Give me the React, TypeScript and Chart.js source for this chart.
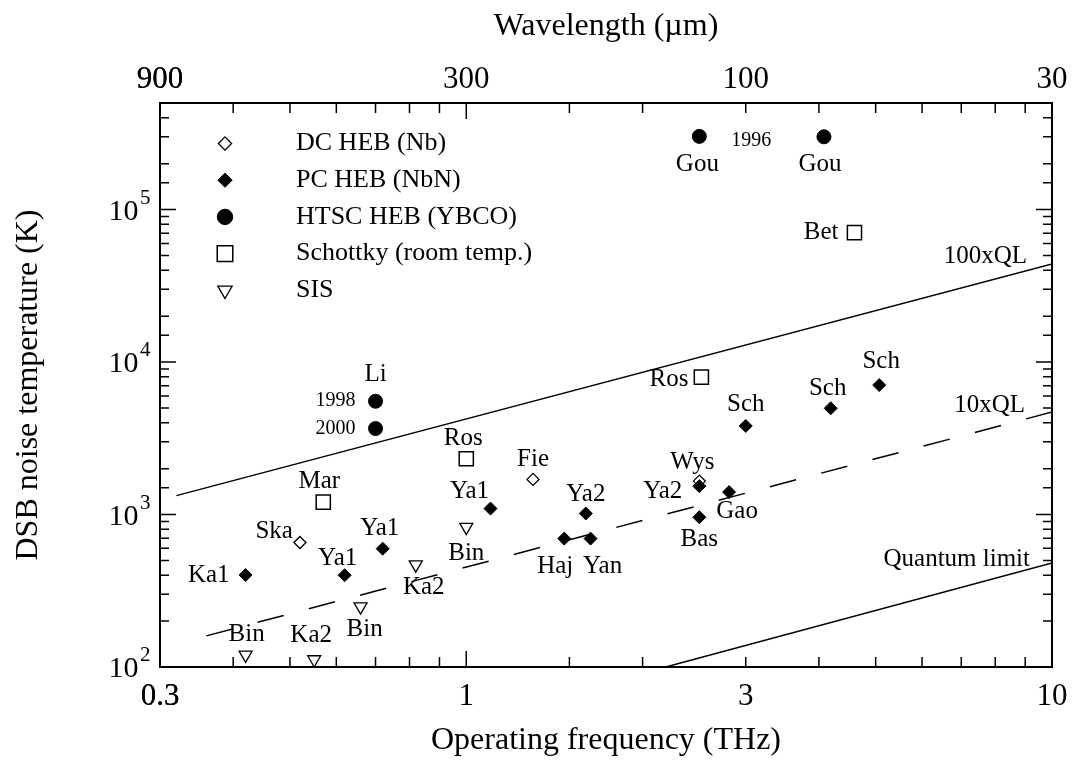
import React, { useEffect, useRef } from 'react';
import { Chart, registerables } from 'chart.js';
import { drawPoint } from 'chart.js/helpers';

Chart.register(...registerables);

const FONT = '"Liberation Serif", "Times New Roman", serif';

// ---- data: operating frequency (THz) and DSB noise temperature (K) ----
const dcHebFreq = [0.52, 1.3, 2.5];
const dcHebTemp = [655, 1700, 1656];
const dcHebNames = ['Ska', 'Fie', 'Wys'];

const pcHebFreq = [0.42, 0.62, 0.72, 1.1, 1.47, 1.6, 1.63, 2.5, 2.5, 2.81, 3.0, 4.19, 5.07];
const pcHebTemp = [401, 400, 597, 1094, 695, 1016, 695, 1535, 960, 1403, 3811, 4977, 7063];
const pcHebNames = ['Ka1', 'Ya1', 'Ya1', 'Ya1', 'Haj', 'Ya2', 'Yan', 'Ya2', 'Bas', 'Gao', 'Sch', 'Sch', 'Sch'];

const htscFreq = [0.7, 0.7, 2.5, 4.08];
const htscTemp = [5533, 3664, 302000, 300000];
const htscNames = ['Li', '', 'Gou', 'Gou'];
const htscYears = ['1998', '2000', '1996', ''];

const schottkyFreq = [0.57, 1.0, 2.52, 4.6];
const schottkyTemp = [1205, 2323, 7960, 70600];
const schottkyNames = ['Mar', 'Ros', 'Ros', 'Bet'];

const sisFreq = [0.42, 0.55, 0.66, 0.82, 1.0];
const sisTemp = [120, 112, 249, 469, 826];
const sisNames = ['Bin', 'Ka2', 'Bin', 'Ka2', 'Bin'];

// reference lines
const ql100Freq = [0.32, 10];
const ql100Temp = [1330, 44000];
const ql10Freq = [0.36, 10];
const ql10Temp = [160, 4700];
const qlFreq = [2.19, 10];
const qlTemp = [100, 481];

// axes
const xTickValues = [0.3, 1, 3, 10];
const xTickLabels = ['0.3', '1', '3', '10'];
const wavelengthLabels = ['900', '300', '100', '30'];
const yTickExponents = [2, 3, 4, 5];

// ---- label placement (pixel offsets from the marker, alignment) ----
type Place = [number, number, CanvasTextAlign] | null;
const dcHebPlace: Place[] = [[-7, -11, 'right'], [0, -20, 'center'], [-7, -19, 'center']];
const pcHebPlace: Place[] = [
  [-16, 0, 'right'], [-7, -17, 'center'], [-3, -20, 'center'], [-21, -17, 'center'],
  [-9, 28, 'center'], [0, -19, 'center'], [12, 28, 'center'], [-17, 5, 'right'],
  [0, 22, 'center'], [8, 19, 'center'], [0, -21, 'center'], [-3, -20, 'center'], [2, -24, 'center'],
];
const htscPlace: Place[] = [[0, -27, 'center'], null, [-2, 28, 'center'], [-4, 28, 'center']];
const htscYearPlace: Place[] = [[-20, 0, 'right'], [-20, 0, 'right'], [32, 4, 'left'], null];
const schottkyPlace: Place[] = [[-4, -21, 'center'], [-3, -20, 'center'], [-13, 2, 'right'], [-16, 0, 'right']];
const sisPlace: Place[] = [[1, -20, 'center'], [-3, -24, 'center'], [4, 23, 'center'], [8, 23, 'center'], [0, 26, 'center']];

const pts = (xs: number[], ys: number[]) => xs.map((x, i) => ({ x, y: ys[i] }));
const near = (a: number, b: number) => Math.abs(a - b) < 1e-6 * Math.max(1, Math.abs(b));

const annotate = {
  id: 'annotate',
  afterDatasetsDraw(chart: any) {
    const ctx: CanvasRenderingContext2D = chart.ctx;
    const { left, right, top, bottom } = chart.chartArea;
    const xs = chart.scales.x;
    const ys = chart.scales.y;
    ctx.save();
    ctx.strokeStyle = '#000';
    ctx.fillStyle = '#000';
    ctx.lineWidth = 1.5;

    // inward tick marks on all four sides
    const isMajor = (v: number) => {
      const l = Math.log10(v);
      return Math.abs(l - Math.round(l)) < 1e-6;
    };
    ctx.beginPath();
    for (const t of xs.ticks) {
      const px = xs.getPixelForValue(t.value);
      const len = isMajor(t.value) ? 16 : 10;
      ctx.moveTo(px, bottom);
      ctx.lineTo(px, bottom - len);
      ctx.moveTo(px, top);
      ctx.lineTo(px, top + len);
    }
    for (const t of ys.ticks) {
      const py = ys.getPixelForValue(t.value);
      const len = isMajor(t.value) ? 16 : 9;
      ctx.moveTo(left, py);
      ctx.lineTo(left + len, py);
      ctx.moveTo(right, py);
      ctx.lineTo(right - len, py);
    }
    ctx.stroke();

    // y tick labels 10^n
    for (const e of yTickExponents) {
      const py = ys.getPixelForValue(Math.pow(10, e));
      ctx.textBaseline = 'alphabetic';
      ctx.font = `30px ${FONT}`;
      ctx.textAlign = 'right';
      ctx.fillText('10', left - 21.5, py + 10);
      ctx.font = `21px ${FONT}`;
      ctx.textAlign = 'left';
      ctx.fillText(String(e), left - 20, py - 6);
    }

    // point labels
    const drawLabels = (fx: number[], ty: number[], names: string[], place: Place[], size: number) => {
      ctx.font = `${size}px ${FONT}`;
      ctx.textBaseline = 'middle';
      fx.forEach((f, i) => {
        const p = place[i];
        if (!p || !names[i]) return;
        const px = xs.getPixelForValue(f);
        const py = ys.getPixelForValue(ty[i]);
        ctx.textAlign = p[2];
        ctx.fillText(names[i], px + p[0], py + p[1]);
      });
    };
    drawLabels(dcHebFreq, dcHebTemp, dcHebNames, dcHebPlace, 25);
    drawLabels(pcHebFreq, pcHebTemp, pcHebNames, pcHebPlace, 25);
    drawLabels(htscFreq, htscTemp, htscNames, htscPlace, 25);
    drawLabels(htscFreq, htscTemp, htscYears, htscYearPlace, 20);
    drawLabels(schottkyFreq, schottkyTemp, schottkyNames, schottkyPlace, 25);
    drawLabels(sisFreq, sisTemp, sisNames, sisPlace, 25);

    // reference line labels (right end of each line)
    const lineLabel = (fx: number[], ty: number[], text: string, dx: number, dy: number) => {
      const n = fx.length - 1;
      const px = xs.getPixelForValue(fx[n]);
      const py = ys.getPixelForValue(ty[n]);
      ctx.font = `25px ${FONT}`;
      ctx.textAlign = 'right';
      ctx.textBaseline = 'middle';
      ctx.fillText(text, px + dx, py + dy);
    };
    lineLabel(ql100Freq, ql100Temp, '100xQL', -25, -8);
    lineLabel(ql10Freq, ql10Temp, '10xQL', -27, -7);
    lineLabel(qlFreq, qlTemp, 'Quantum limit', -22, -4);

    // legend inside the plot
    const legendSets = chart.data.datasets.filter((d: any) => d.showLine === false);
    legendSets.forEach((d: any, i: number) => {
      const y = top + 40.5 + i * 36.7;
      const x = left + 65;
      ctx.fillStyle = d.backgroundColor;
      ctx.strokeStyle = d.borderColor;
      ctx.lineWidth = d.borderWidth;
      drawPoint(ctx, { pointStyle: d.pointStyle, rotation: d.pointRotation || 0, radius: d.pointRadius * 1.1, borderWidth: d.borderWidth }, x, y);
      ctx.fillStyle = '#000';
      ctx.font = `26px ${FONT}`;
      ctx.textAlign = 'left';
      ctx.textBaseline = 'middle';
      ctx.fillText(d.label, left + 136, y);
    });

    ctx.restore();
  },
};

const fitHorizontal = (height: number) => (s: any) => {
  s.height = height;
  s.paddingLeft = 0;
  s.paddingRight = 0;
};

export default function App() {
  const ref = useRef<HTMLCanvasElement | null>(null);

  useEffect(() => {
    if (!ref.current) return;
    const lineDs = (fx: number[], ty: number[], dash: number[]) => ({
      type: 'line' as const,
      data: pts(fx, ty),
      showLine: true,
      borderColor: '#000',
      borderWidth: 1.5,
      borderDash: dash,
      pointRadius: 0,
      fill: false,
      order: 10,
    });
    const tickFont = { family: FONT, size: 31 };
    const chart = new Chart(ref.current, {
      type: 'scatter',
      data: {
        datasets: [
          {
            label: 'DC HEB (Nb)', data: pts(dcHebFreq, dcHebTemp), showLine: false,
            pointStyle: 'rectRot', pointRadius: 6, pointRotation: 0,
            backgroundColor: '#ffffff', borderColor: '#000000', borderWidth: 1.3, order: 2,
          },
          {
            label: 'PC HEB (NbN)', data: pts(pcHebFreq, pcHebTemp), showLine: false,
            pointStyle: 'rectRot', pointRadius: 6.5, pointRotation: 0,
            backgroundColor: '#000000', borderColor: '#000000', borderWidth: 1, order: 1,
          },
          {
            label: 'HTSC HEB (YBCO)', data: pts(htscFreq, htscTemp), showLine: false,
            pointStyle: 'circle', pointRadius: 7, pointRotation: 0,
            backgroundColor: '#000000', borderColor: '#000000', borderWidth: 1, order: 2,
          },
          {
            label: 'Schottky (room temp.)', data: pts(schottkyFreq, schottkyTemp), showLine: false,
            pointStyle: 'rect', pointRadius: 10, pointRotation: 0,
            backgroundColor: '#ffffff', borderColor: '#000000', borderWidth: 1.5, order: 2,
          },
          {
            label: 'SIS', data: pts(sisFreq, sisTemp), showLine: false,
            pointStyle: 'triangle', pointRadius: 7.5, pointRotation: 180,
            backgroundColor: '#ffffff', borderColor: '#000000', borderWidth: 1.3, order: 2,
          },
          lineDs(ql100Freq, ql100Temp, []),
          lineDs(ql10Freq, ql10Temp, [27, 26]),
          lineDs(qlFreq, qlTemp, []),
        ] as any,
      },
      options: {
        responsive: false,
        animation: false,
        events: [],
        layout: { padding: 0 },
        plugins: { legend: { display: false }, tooltip: { enabled: false } },
        scales: {
          x: {
            type: 'logarithmic', position: 'bottom', min: 0.3, max: 10,
            grid: { display: false, drawTicks: false },
            border: { display: true, color: '#000', width: 2 },
            ticks: {
              autoSkip: false, maxRotation: 0, padding: 11, color: '#000', font: tickFont,
              callback: (v: any) => {
                const i = xTickValues.findIndex((t) => near(Number(v), t));
                return i >= 0 ? xTickLabels[i] : '';
              },
            },
            title: {
              display: true, text: 'Operating frequency (THz)', color: '#000',
              font: { family: FONT, size: 32 }, padding: { top: 0, bottom: 0 },
            },
            afterFit: fitHorizontal(93),
          },
          xTop: {
            type: 'logarithmic', position: 'top', min: 0.3, max: 10,
            grid: { display: false, drawTicks: false },
            border: { display: true, color: '#000', width: 2 },
            ticks: {
              autoSkip: false, maxRotation: 0, padding: 5, color: '#000', font: tickFont,
              callback: (v: any) => {
                const i = xTickValues.findIndex((t) => near(Number(v), t));
                return i >= 0 ? wavelengthLabels[i] : '';
              },
            },
            title: {
              display: true, text: 'Wavelength (\u00b5m)', color: '#000',
              font: { family: FONT, size: 32 }, padding: { top: 7, bottom: 0 },
            },
            afterFit: fitHorizontal(103),
          },
          y: {
            type: 'logarithmic', position: 'left', min: 100, max: 500000,
            grid: { display: false, drawTicks: false },
            border: { display: true, color: '#000', width: 2 },
            ticks: { display: false },
            title: {
              display: true, text: 'DSB noise temperature (K)', color: '#000',
              font: { family: FONT, size: 32 }, padding: { top: 9, bottom: 0 },
            },
            afterFit: (s: any) => { s.width = 160; },
          },
          yRight: {
            type: 'logarithmic', position: 'right', min: 100, max: 500000,
            grid: { display: false, drawTicks: false },
            border: { display: true, color: '#000', width: 2 },
            ticks: { display: false },
            afterFit: (s: any) => { s.width = 23; },
          },
        },
      } as any,
      plugins: [annotate],
    });
    return () => chart.destroy();
  }, []);

  return (
    <div style={{ position: 'absolute', left: 0, top: 0, width: 1075, height: 760, background: '#fff' }}>
      <canvas ref={ref} width={1075} height={760} />
    </div>
  );
}
